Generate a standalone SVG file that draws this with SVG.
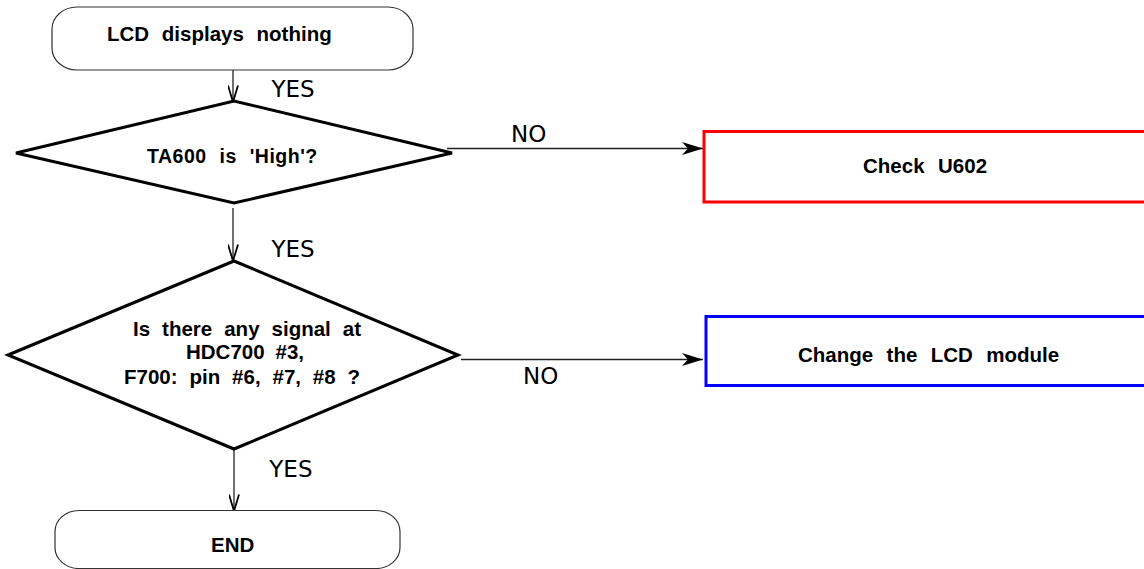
<svg xmlns="http://www.w3.org/2000/svg" width="1144" height="569" viewBox="0 0 1144 569">
<style>
.term{fill:#fff;stroke:#333;stroke-width:1.2}
.dec{fill:#fff;stroke:#000;stroke-width:3;stroke-linejoin:miter}
.bt{font-family:"Liberation Sans",Arial,sans-serif;font-weight:bold;font-size:20.5px;fill:#000}
.lbl{font-family:"DejaVu Sans",sans-serif;font-size:23px;fill:#000}
.con{fill:none;stroke:#222;stroke-width:1.3}
</style>
<defs>
<marker id="ah" markerUnits="userSpaceOnUse" viewBox="0 0 22 14" refX="21" refY="7" markerWidth="22" markerHeight="14" orient="auto">
<path d="M0,0.5 L21,7 L0,13.5 L6,7 Z" fill="#000"/>
</marker>
<marker id="av" markerUnits="userSpaceOnUse" viewBox="0 0 18 11" refX="17" refY="5.5" markerWidth="18" markerHeight="11" orient="auto">
<path d="M0.5,0.5 L17,5.5 L0.5,10.5" fill="none" stroke="#000" stroke-width="1.8"/>
</marker>
</defs>
<g id="connectors">
<line class="con" x1="233" y1="70" x2="233" y2="102" marker-end="url(#av)"/>
<line class="con" x1="233" y1="208" x2="233" y2="261" marker-end="url(#av)"/>
<line class="con" x1="234" y1="449" x2="234" y2="511" marker-end="url(#av)"/>
<line class="con" x1="447" y1="148.5" x2="703" y2="148.5" stroke="#000" stroke-width="1.6" marker-end="url(#ah)"/>
<line class="con" x1="461" y1="359.5" x2="703" y2="359.5" stroke="#555" stroke-width="1.8" marker-end="url(#ah)"/>
<text class="lbl" x="271.5" y="97">YES</text>
<text class="lbl" x="271.5" y="257.3">YES</text>
<text class="lbl" x="269.3" y="477.3">YES</text>
<text class="lbl" x="511" y="141.7">NO</text>
<text class="lbl" x="523" y="384">NO</text>
</g>
<g id="start">
<rect class="term" x="52" y="7" width="361" height="63" rx="25" ry="22"/>
<text class="bt" x="107" y="41" style="word-spacing:7px">LCD displays nothing</text>
</g>
<g id="dec1">
<polygon class="dec" points="16,153 234,101 452,153 234,203"/>
<text class="bt" x="147" y="163.3" style="font-size:19.5px;letter-spacing:0.5px;word-spacing:7px">TA600 is 'High'?</text>
</g>
<g id="check">
<rect x="704" y="131.5" width="460" height="70.5" fill="#fff" stroke="#f00" stroke-width="3"/>
<text class="bt" x="863" y="172.7" style="word-spacing:7.8px">Check U602</text>
</g>
<g id="dec2">
<polygon class="dec" points="8,355 234,261 458,355 234,449"/>
<text class="bt" x="133" y="336" style="word-spacing:6.3px">Is there any signal at</text>
<text class="bt" x="186" y="359.3" style="word-spacing:5.2px">HDC700 #3,</text>
<text class="bt" x="124" y="384" style="word-spacing:6.2px">F700: pin #6, #7, #8 ?</text>
</g>
<g id="change">
<rect x="706" y="316.5" width="460" height="69" fill="#fff" stroke="#00f" stroke-width="3"/>
<text class="bt" x="798" y="361.7" style="word-spacing:7.7px">Change the LCD module</text>
</g>
<g id="end">
<rect class="term" x="55" y="510.5" width="345" height="58" rx="24" ry="21"/>
<text class="bt" x="211" y="551.7">END</text>
</g>
</svg>
